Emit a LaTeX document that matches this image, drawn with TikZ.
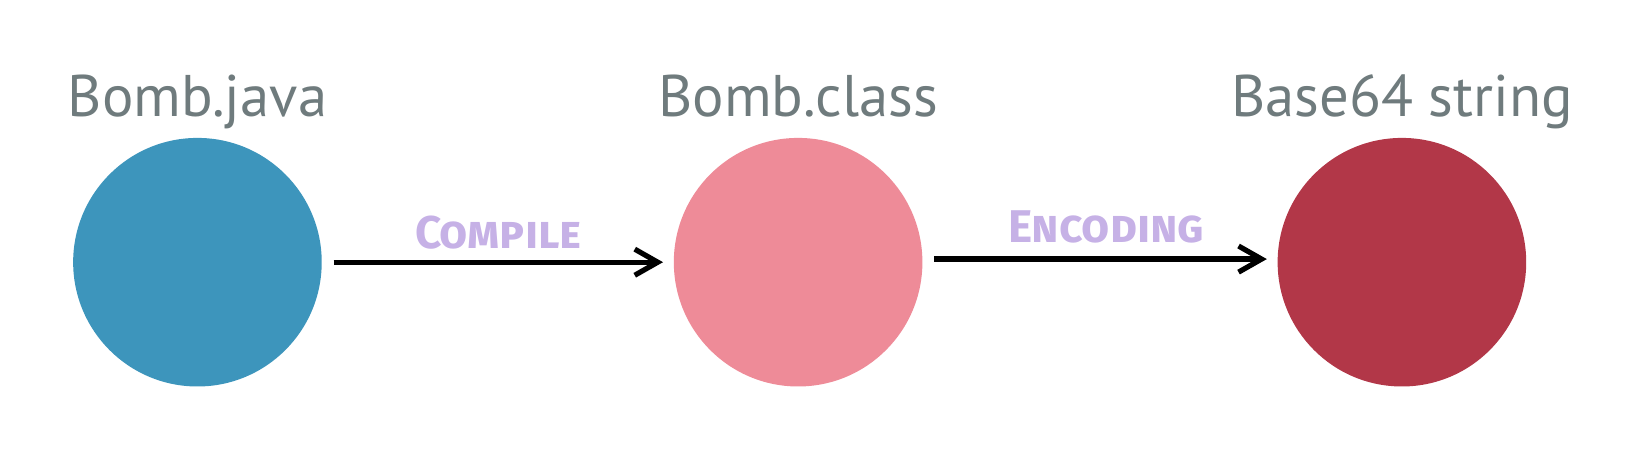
\documentclass[tikz,border=0pt]{standalone}
\usepackage{fontspec}
\setmainfont{Fira Sans}
\newfontfamily\titlefont{PT Sans}
\usetikzlibrary{positioning, arrows.meta}
\definecolor{JavaBlue}{HTML}{3D95BC}
\definecolor{ClassPink}{HTML}{EE8B98}
\definecolor{StringRed}{HTML}{B23748}
\definecolor{LabelGray}{HTML}{6F7B7D}
\definecolor{StepLilac}{HTML}{C6B1E6}

\begin{document}
\begin{tikzpicture}[
            x=0.02cm, y=-0.02cm,
            stage/.style={circle, minimum size=4.76cm, inner sep=0pt},
            title/.style={text=LabelGray, font=\titlefont\fontsize{32}{38}\selectfont, anchor=base},
            steplabel/.style={text=StepLilac, font=\bfseries\scshape\fontsize{25}{30}\selectfont, anchor=base},
            arrow/.style={-{Straight Barb[length=0.44cm, width=0.5cm]}, line width=0.1cm, black, shorten <=0.22cm, shorten >=0.2cm}
        ]
            \useasboundingbox (0,0) rectangle (1568,446);
            \node[stage, fill=JavaBlue] (java) at (189,251) {};
            \node[stage, fill=ClassPink] (class) at (764,251) {};
            \node[stage, fill=StringRed] (string) at (1342,251) {};
            \node[title] (javaname) at (189,112) {Bomb.java};
            \node[title] (classname) at (764,112) {Bomb.class};
            \node[title] (stringname) at (1342,112) {Base64 string};

            \draw[arrow] (java) -- (class);
            \draw[arrow] ([yshift=0.06cm]class.east) -- ([yshift=0.06cm]string.west);
            \node[steplabel] (compile) at (477,238) {Compile};
            \node[steplabel] (encoding) at (1059,232) {Encoding};
        \end{tikzpicture}
\end{document}
